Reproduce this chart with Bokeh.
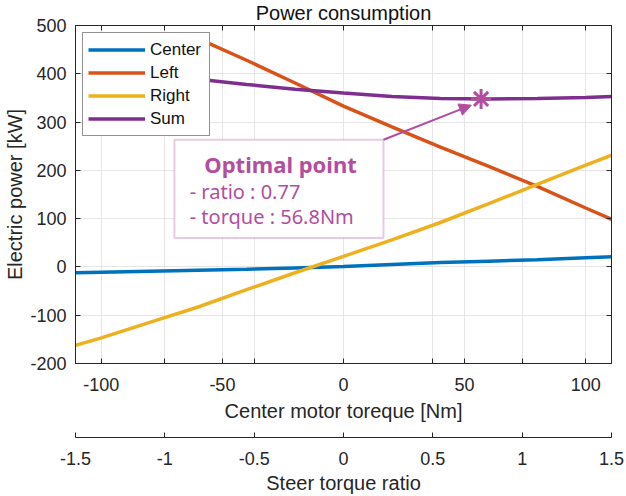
from bokeh.plotting import figure
from bokeh.models import (Range1d, LinearAxis, FixedTicker, Legend, LegendItem, Title,
                          Label, BoxAnnotation, Arrow, NormalHead, CustomJSTickFormatter)
from bokeh.embed import file_html
from bokeh.resources import INLINE

# ---------------- data ----------------
torque = [-111, -100, -80, -60, -40, -20, 0, 20, 40, 60, 80, 100, 111]
center = [-12, -11, -9, -7, -5, -2, 1, 5, 9, 12, 15, 19, 21]
right = [-163, -147, -115, -83, -47, -12, 22, 56, 92, 131, 171, 211, 232]
torque_ls = [-57, -40, -20, 0, 20, 40, 60, 80, 100, 111]
left = [466, 428, 381, 333, 290, 248, 208, 167, 122, 98]
total = [387, 378, 368, 360, 353, 349, 348, 349, 351, 353]
series_names = ["Center", "Left", "Right", "Sum"]

opt_ratio = 0.77
opt_torque = 56.8
opt_power = 348

x_ticks = [-100, -50, 0, 50, 100]
ratio_ticks = [-1.5, -1, -0.5, 0, 0.5, 1, 1.5]
y_ticks = [-200, -100, 0, 100, 200, 300, 400, 500]

# ---------------- styles ----------------
colors = ["#0072BD", "#D95319", "#EDB120", "#7E2F8E"]
MAG = "#B24E9F"
AX = "#262626"
GRID = "#E6E6E6"
FONT = "Liberation Sans"

nm_per_ratio = opt_torque / opt_ratio
xmax = ratio_ticks[-1] * nm_per_ratio
ratio_minor = [r * nm_per_ratio for r in ratio_ticks[1:-1] if r != 0]

p = figure(width=626, height=496,
           x_range=Range1d(-xmax, xmax), y_range=Range1d(y_ticks[0], y_ticks[-1]),
           output_backend="svg", toolbar_location=None,
           min_border_left=75, min_border_right=15, min_border_top=25, min_border_bottom=0)
p.title = Title(text="Power consumption", align="center", text_font=FONT, text_font_size="20px",
                text_font_style="normal", text_color="#111111", standoff=0, vertical_align="top")
p.extra_x_ranges = {"ratio": Range1d(ratio_ticks[0], ratio_ticks[-1])}
p.outline_line_color = AX
p.outline_line_width = 1
p.background_fill_color = "white"
p.border_fill_color = "white"

fmt = CustomJSTickFormatter(code="return String(tick);")
blank = CustomJSTickFormatter(code="return '';")
xt = FixedTicker(ticks=x_ticks, minor_ticks=ratio_minor)
yt = FixedTicker(ticks=y_ticks)


def style_axis(ax, labels=True):
    ax.axis_line_color = AX
    ax.major_tick_line_color = AX
    ax.minor_tick_line_color = AX
    ax.major_tick_in = 5
    ax.major_tick_out = 0
    ax.minor_tick_in = 5
    ax.minor_tick_out = 0
    ax.major_label_text_font = FONT
    ax.major_label_text_color = AX
    ax.axis_label_text_font = FONT
    ax.axis_label_text_font_style = "normal"
    ax.axis_label_text_color = AX
    if labels:
        ax.formatter = fmt
        ax.major_label_text_font_size = "18px"
        ax.axis_label_text_font_size = "20px"
    else:
        ax.formatter = blank
        ax.major_label_text_font_size = "1px"
        ax.major_label_standoff = 0


xa = p.xaxis[0]
style_axis(xa)
xa.ticker = xt
xa.major_label_standoff = 14
xa.axis_label = "Center motor toreque [Nm]"
xa.axis_label_standoff = 6

ya = p.yaxis[0]
style_axis(ya)
ya.ticker = yt
ya.major_label_standoff = 9
ya.axis_label = "Electric power [kW]"
ya.axis_label_standoff = 1

top = LinearAxis(ticker=xt)
style_axis(top, labels=False)
p.add_layout(top, "above")
rgt = LinearAxis(ticker=yt)
style_axis(rgt, labels=False)
p.add_layout(rgt, "right")

spacer = LinearAxis(ticker=FixedTicker(ticks=[]), axis_line_color=None,
                    major_tick_line_color=None, minor_tick_line_color=None,
                    major_tick_out=0, major_tick_in=0, minor_tick_out=0, minor_tick_in=0,
                    major_label_text_font_size="1px", major_label_standoff=0,
                    axis_label=" ", axis_label_text_font_size="2px", axis_label_standoff=8)
p.add_layout(spacer, "below")

ra = LinearAxis(x_range_name="ratio", ticker=FixedTicker(ticks=ratio_ticks))
style_axis(ra)
ra.minor_tick_line_color = None
ra.major_label_standoff = 14
ra.axis_label = "Steer torque ratio"
ra.axis_label_standoff = 4
p.add_layout(ra, "below")

p.xgrid.ticker = xt
p.xgrid.grid_line_color = GRID
p.xgrid.minor_grid_line_color = GRID
p.ygrid.ticker = yt
p.ygrid.grid_line_color = GRID

renderers = []
for xs, ys, c in zip([torque, torque_ls, torque, torque_ls], [center, left, right, total], colors):
    renderers.append(p.line(xs, ys, line_width=3.5, line_color=c))

legend = Legend(items=[LegendItem(label=n, renderers=[r]) for n, r in zip(series_names, renderers)],
                location="top_left", margin=7, padding=5, spacing=0,
                glyph_width=57, glyph_height=23, label_height=23, label_width=54, label_standoff=5,
                label_text_font=FONT, label_text_font_size="17px", label_text_color="#111111",
                border_line_color=AX, border_line_width=1, background_fill_alpha=1)
p.add_layout(legend)

# annotation box & texts
box = BoxAnnotation(left=-69.8, right=16.5, bottom=59.7, top=263.4,
                    fill_color="white", fill_alpha=1, line_color=MAG, line_width=2)
p.add_layout(box)
p.add_layout(Label(x=-26, y=213, text="Optimal point", text_font="Noto Sans",
                   text_font_style="bold", text_font_size="22px", text_color=MAG,
                   text_align="center", text_baseline="middle"))
p.add_layout(Label(x=-63.5, y=157, text="- ratio : " + str(opt_ratio), text_font="Noto Sans",
                   text_font_size="20px", text_color=MAG, text_align="left", text_baseline="middle"))
p.add_layout(Label(x=-63.5, y=105, text="- torque : " + str(opt_torque) + "Nm", text_font="Noto Sans",
                   text_font_size="20px", text_color=MAG, text_align="left", text_baseline="middle"))
p.add_layout(Arrow(x_start=16.5, y_start=263.4, x_end=opt_torque - 4, y_end=opt_power - 13,
                   line_color=MAG, line_width=2,
                   end=NormalHead(size=12, fill_color=MAG, line_color=MAG)))
p.scatter([opt_torque], [opt_power], marker="asterisk", size=20, line_color=MAG, line_width=3)

open("out.html", "w").write(file_html(p, INLINE))
